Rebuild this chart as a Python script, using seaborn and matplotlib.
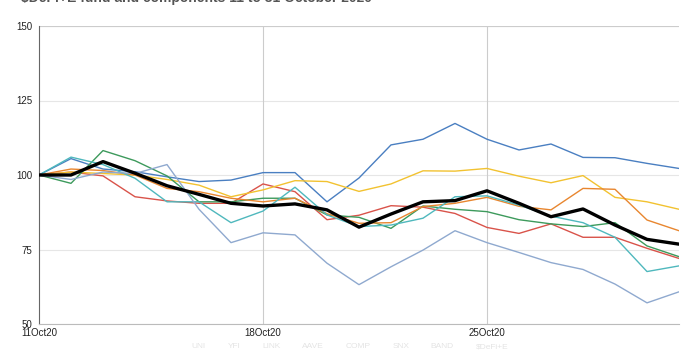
import numpy as np
import pandas as pd
import matplotlib
matplotlib.use("Agg")
import matplotlib.pyplot as plt
import matplotlib.dates as mdates
import seaborn as sns

dates = pd.date_range("2020-10-11", "2020-10-31", freq="D")

names = ["UNI", "YFI", "LINK", "AAVE", "COMP", "SNX", "BAND", "$DeFi+E"]
colors = ["#4a7fc1", "#d9534a", "#f2c230", "#3d9a5c", "#e8862f", "#4fb8bd", "#8fa9cf", "#000000"]

blue = [100, 105.5, 102, 101.1, 99.4, 97.8, 98.3, 100.8, 100.8, 91, 99, 110.1, 112, 117.3, 112,
        108.4, 110.4, 105.9, 105.8, 103.9, 102.2]
red = [100, 101, 99.7, 92.7, 91.3, 90.5, 90.5, 97, 94.4, 85, 86.5, 89.7, 89.2, 87.1, 82.4,
       80.4, 83.6, 79.1, 79.1, 75.4, 72]
yellow = [100, 101, 100.5, 100, 98.5, 96.6, 92.7, 95, 98.1, 97.8, 94.5, 97, 101.4, 101.3, 102.2,
          99.6, 97.4, 99.8, 92.5, 91, 88.5]
green = [100, 97.2, 108.2, 104.8, 99.7, 91, 91, 92.2, 92.2, 86.6, 85.8, 82.1, 89.6, 88.5, 87.7,
         85, 83.6, 82.7, 84, 76.2, 72.6]
orange = [100, 102, 101.5, 100, 95.5, 94.4, 92.2, 91, 92.2, 87, 83.8, 84, 89.4, 90.5, 92.5,
          89.5, 88.3, 95.5, 95.2, 84.9, 81.3]
teal = [100, 106, 103.5, 98.9, 91, 91, 84, 87.9, 95.9, 86.6, 82.7, 83.2, 85.5, 92.7, 93,
        89.9, 86.2, 84, 79.1, 67.6, 69.5]
lightblue = [100, 98.5, 101, 100.5, 103.5, 88.5, 77.3, 80.6, 79.9, 70.4, 63.2, 69.2, 74.8, 81.3, 77.3,
             74, 70.6, 68.3, 63.4, 57.1, 60.8]
fund = [100, 100, 104.5, 100.6, 96.4, 93.5, 90.5, 89.6, 90.3, 88.3, 82.5, 86.9, 91.0, 91.4, 94.7,
        90.5, 86.0, 88.6, 83.2, 78.4, 76.8]

series = [blue, red, yellow, green, orange, teal, lightblue, fund]

frames = []
for name, vals in zip(names, series):
    frames.append(pd.DataFrame({"date": dates, "value": vals, "series": name}))
df = pd.concat(frames, ignore_index=True)

sns.set_style("white")
plt.rcParams["font.family"] = ["Liberation Sans", "DejaVu Sans"]

fig = plt.figure(figsize=(7, 3.52), dpi=100)
ax = fig.add_axes([39 / 700, 1 - 324 / 352, 640 / 700, 298 / 352])

for name, col in zip(names, colors):
    sub = df[df["series"] == name]
    lw = 2.4 if name == "$DeFi+E" else 1.0
    sns.lineplot(data=sub, x="date", y="value", color=col, linewidth=lw, ax=ax,
                 label=name, zorder=3 if name == "$DeFi+E" else 2)

ax.set_xlim(dates[0], dates[-1])
ax.set_ylim(50, 150)
ax.set_yticks([50, 75, 100, 125, 150])
ax.set_xticks([pd.Timestamp("2020-10-11"), pd.Timestamp("2020-10-18"), pd.Timestamp("2020-10-25")])
ax.xaxis.set_major_formatter(mdates.DateFormatter("%d%b%y"))
ax.set_xlabel("")
ax.set_ylabel("")

ax.grid(axis="y", color="#e6e6e6", linewidth=0.8)
for d in ["2020-10-18", "2020-10-25"]:
    ax.axvline(pd.Timestamp(d), color="#cccccc", linewidth=0.8, zorder=1)
ax.axhline(150, color="#cccccc", linewidth=0.8, zorder=1)

for s in ["top", "right"]:
    ax.spines[s].set_visible(False)
ax.spines["left"].set_color("#666666")
ax.spines["left"].set_linewidth(0.8)
ax.spines["bottom"].set_color("#bbbbbb")
ax.spines["bottom"].set_linewidth(0.8)

ax.tick_params(axis="y", labelsize=7, colors="#222222", length=3, width=0.6, pad=2)
ax.tick_params(axis="x", labelsize=7, colors="#222222", length=0, pad=3)

leg = ax.legend(loc="center", bbox_to_anchor=(0.486, -0.075), ncol=8, frameon=False,
                fontsize=6, handlelength=0, handletextpad=0, columnspacing=2.6)
for h in leg.legend_handles:
    h.set_visible(False)
for t in leg.get_texts():
    t.set_color("#e4e4e4")

fig.text(21 / 700, 1 - 2 / 352, "$DeFi+E fund and components 11 to 31 October 2020",
         fontsize=10, fontweight="bold", color="#555555", ha="left", va="baseline")

fig.savefig("out.png", dpi=100, facecolor="white")
